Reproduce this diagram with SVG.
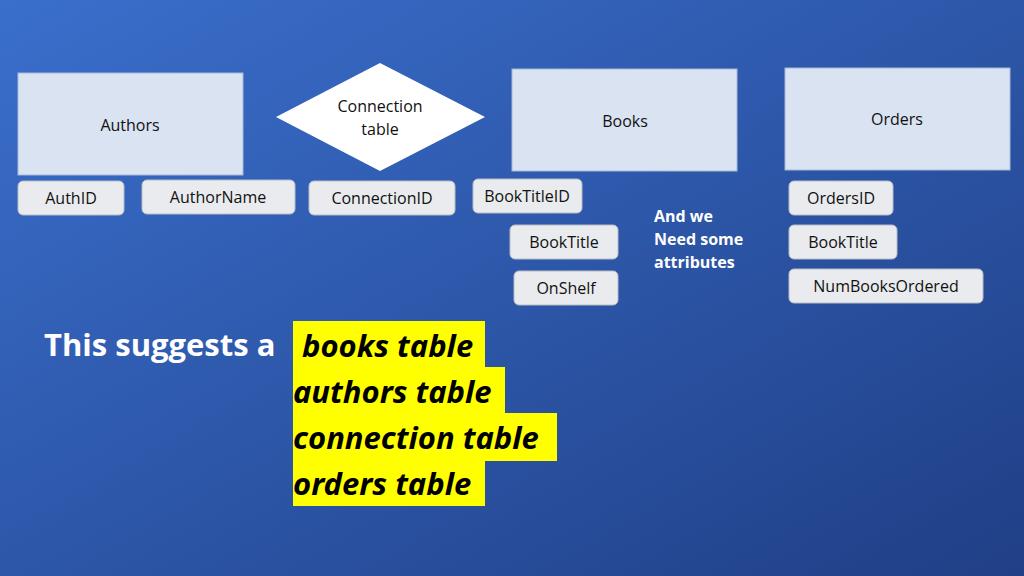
<svg xmlns="http://www.w3.org/2000/svg" width="1024" height="576" viewBox="0 0 1024 576">
<defs>
<linearGradient id="bg" x1="0" y1="0" x2="1" y2="1">
<stop offset="0" stop-color="#3a6fcc"/><stop offset="1" stop-color="#203f86"/>
</linearGradient>
</defs>
<style>
text{font-family:"Open Sans","Liberation Sans",sans-serif;fill:#111;text-anchor:middle}
.ent{fill:#dae3f2;stroke:#a8b8d8;stroke-width:1}
.att{fill:#e9ebee;stroke:#b8bcc4;stroke-width:1}
.t{font-size:16px}
.big{font-family:"Noto Sans","Liberation Sans",sans-serif;font-size:31px;font-weight:bold;font-style:italic;text-anchor:start;fill:#000}
</style>
<rect width="1024" height="576" fill="url(#bg)"/>
<g id="authors"><rect class="ent" x="18" y="73" width="225" height="102"/><text class="t" x="130" y="131">Authors</text></g>
<g id="connection"><polygon points="380,63 485,117 380,171 276,117" fill="#fff"/><text class="t" x="380" y="112">Connection</text><text class="t" x="380" y="135">table</text></g>
<g id="books"><rect class="ent" x="512" y="69" width="225" height="102"/><text class="t" x="625" y="127">Books</text></g>
<g id="orders"><rect class="ent" x="785" y="68" width="225" height="102"/><text class="t" x="897" y="125">Orders</text></g>
<g id="authid"><rect class="att" x="18" y="181" width="106" height="34" rx="5"/><text class="t" x="71" y="204">AuthID</text></g>
<g id="authorname"><rect class="att" x="142" y="180" width="153" height="34" rx="5"/><text class="t" x="218" y="203">AuthorName</text></g>
<g id="connectionid"><rect class="att" x="309" y="181" width="146" height="34" rx="5"/><text class="t" x="382" y="204">ConnectionID</text></g>
<g id="booktitleid"><rect class="att" x="473" y="179" width="109" height="34" rx="5"/><text class="t" x="527" y="202">BookTitleID</text></g>
<g id="booktitle1"><rect class="att" x="510" y="225" width="108" height="34" rx="5"/><text class="t" x="564" y="248">BookTitle</text></g>
<g id="onshelf"><rect class="att" x="514" y="271" width="104" height="34" rx="5"/><text class="t" x="566" y="294">OnShelf</text></g>
<g id="ordersid"><rect class="att" x="789" y="181" width="104" height="34" rx="5"/><text class="t" x="841" y="204">OrdersID</text></g>
<g id="booktitle2"><rect class="att" x="789" y="225" width="108" height="34" rx="5"/><text class="t" x="843" y="248">BookTitle</text></g>
<g id="numbooks"><rect class="att" x="789" y="269" width="194" height="34" rx="5"/><text class="t" x="886" y="292">NumBooksOrdered</text></g>
<g id="note" font-weight="bold"><text class="t" x="654" y="222" style="fill:#fff;text-anchor:start;font-weight:bold">And we</text><text class="t" x="654" y="245" style="fill:#fff;text-anchor:start;font-weight:bold">Need some</text><text class="t" x="654" y="268" style="fill:#fff;text-anchor:start;font-weight:bold">attributes</text></g>
<text x="44" y="356" style="font-family:'Open Sans','Liberation Sans',sans-serif;font-size:31px;font-weight:bold;fill:#fff;text-anchor:start">This suggests a</text>
<g id="highlight" fill="#ffff00">
<rect x="293" y="321" width="192" height="47"/><rect x="293" y="367" width="212" height="47"/><rect x="293" y="413" width="264" height="48"/><rect x="293" y="460" width="192" height="46"/>
</g>
<text class="big" x="302" y="357">books table</text>
<text class="big" x="293" y="403">authors table</text>
<text class="big" x="293" y="449">connection table</text>
<text class="big" x="293" y="495">orders table</text>
</svg>
